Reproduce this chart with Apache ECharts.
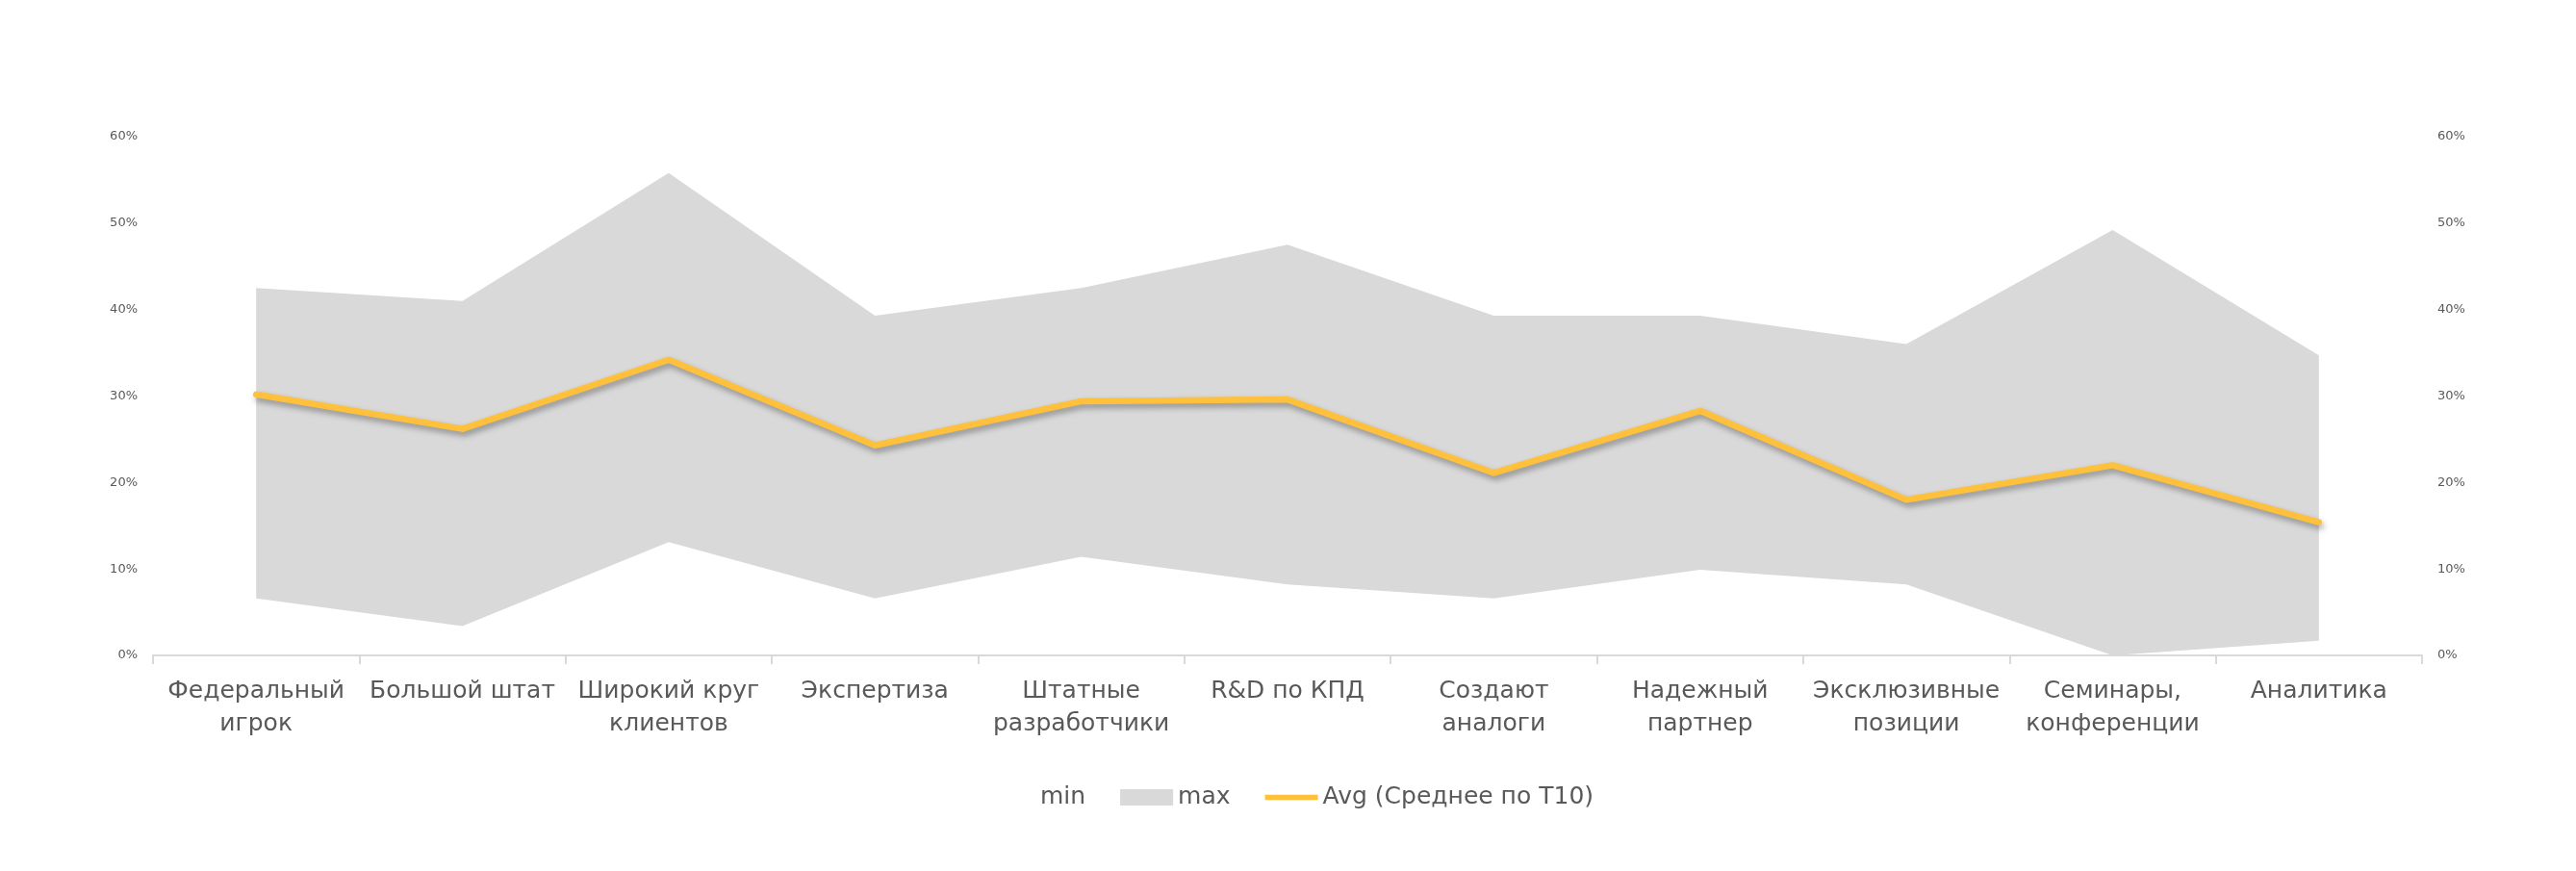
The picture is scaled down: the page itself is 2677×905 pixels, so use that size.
<!DOCTYPE html>
<html>
<head>
<meta charset="utf-8">
<script src="https://cdn.jsdelivr.net/npm/echarts@6/dist/echarts.min.js"></script>
<style>
html,body{margin:0;padding:0;background:#fff;}
#chart{width:2677px;height:905px;}
</style>
</head>
<body>
<div id="chart"></div>
<script>
const categories = [
  'Федеральный\nигрок', 'Большой штат', 'Широкий круг\nклиентов', 'Экспертиза',
  'Штатные\nразработчики', 'R&D по КПД', 'Создают\nаналоги', 'Надежный\nпартнер',
  'Эксклюзивные\nпозиции', 'Семинары,\nконференции', 'Аналитика'
];
const minValues = [6.6, 3.4, 13.1, 6.6, 11.4, 8.2, 6.6, 9.9, 8.2, 0.0, 1.7];
const maxValues = [42.5, 41.0, 55.8, 39.3, 42.5, 47.5, 39.3, 39.3, 36.0, 49.2, 34.7];
const avgValues = [30.2, 26.2, 34.2, 24.3, 29.4, 29.6, 21.1, 28.3, 18.0, 22.0, 15.4];
const yTicks = [0, 10, 20, 30, 40, 50, 60];

const bandValues = maxValues.map((v, i) => +(v - minValues[i]).toFixed(2));

const FONT = 'DejaVu Sans';
const TXT = '#595959';
const lineIcon = 'path://M0,0 L0.01,0 L0,0.01 Z M0,5.5 L58,5.5 L58,11.5 L0,11.5 Z M57.99,17 L58,17 L58,16.99 Z';

const yAxisCommon = {
  type: 'value',
  min: yTicks[0],
  max: yTicks[yTicks.length - 1],
  interval: 10,
  axisLine: { show: false },
  axisTick: { show: false },
  splitLine: { show: false },
  axisLabel: { formatter: '{value}%', color: TXT, fontFamily: FONT, fontSize: 13, margin: 16 }
};

const chart = echarts.init(document.getElementById('chart'));
chart.setOption({
  animation: false,
  backgroundColor: '#ffffff',
  grid: { left: 159, right: 160, top: 142, bottom: 224, containLabel: false },
  legend: {
    left: 'center',
    top: 811,
    itemWidth: 55,
    itemHeight: 17,
    itemGap: 36,
    textStyle: { color: TXT, fontFamily: FONT, fontSize: 25 },
    data: [
      { name: 'min', icon: 'rect', itemStyle: { color: 'rgba(0,0,0,0)' } },
      { name: 'max', icon: 'rect', itemStyle: { color: '#d9d9d9' } },
      { name: 'Avg (Среднее по Т10)', icon: lineIcon, itemStyle: { color: '#ffc13b' } }
    ]
  },
  xAxis: {
    type: 'category',
    data: categories,
    boundaryGap: true,
    axisLine: { lineStyle: { color: '#d9d9d9', width: 2 } },
    axisTick: { show: true, length: 9, lineStyle: { color: '#d9d9d9', width: 2 } },
    axisLabel: { interval: 0, color: TXT, fontFamily: FONT, fontSize: 25, lineHeight: 34, margin: 20 }
  },
  yAxis: [
    Object.assign({}, yAxisCommon, { position: 'left' }),
    Object.assign({}, yAxisCommon, { position: 'right', axisLabel: Object.assign({}, yAxisCommon.axisLabel) })
  ],
  series: [
    {
      name: 'min', type: 'line', stack: 'band', data: minValues,
      symbol: 'none', lineStyle: { width: 0, opacity: 0 },
      itemStyle: { color: 'rgba(0,0,0,0)' },
      areaStyle: { opacity: 0 }, silent: true
    },
    {
      name: 'max', type: 'line', stack: 'band', data: bandValues,
      symbol: 'none', lineStyle: { width: 0, opacity: 0 },
      itemStyle: { color: '#d9d9d9' },
      areaStyle: { color: '#d9d9d9', opacity: 1 }
    },
    {
      name: 'Avg (Среднее по Т10)', type: 'line', data: avgValues,
      symbol: 'none', z: 5,
      itemStyle: { color: '#ffc13b' },
      lineStyle: {
        color: '#ffc13b', width: 6.5, cap: 'round', join: 'round',
        shadowColor: 'rgba(0,0,0,0.35)', shadowBlur: 6, shadowOffsetX: 2, shadowOffsetY: 4
      }
    }
  ]
});
</script>
</body>
</html>
